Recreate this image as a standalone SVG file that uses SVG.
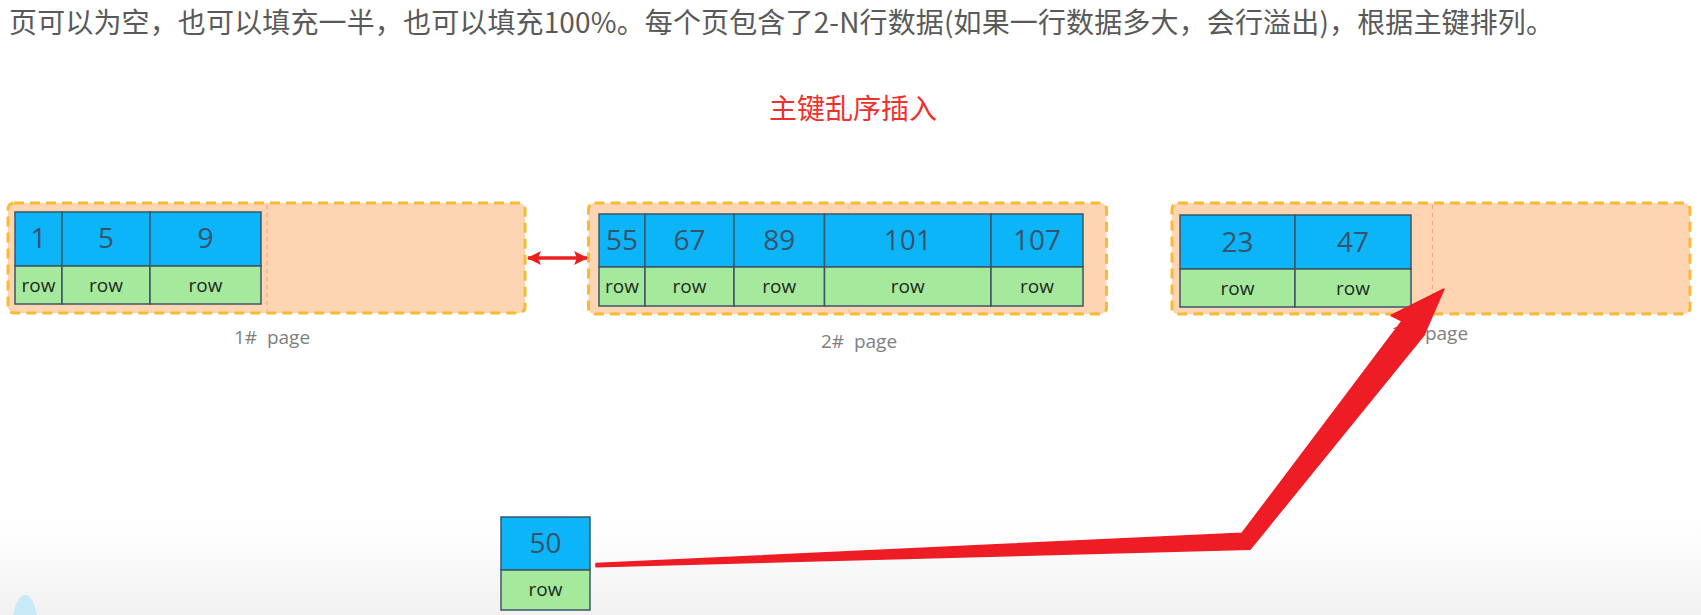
<svg xmlns="http://www.w3.org/2000/svg" width="1701" height="615" viewBox="0 0 1701 615">
<style>
.page{fill:#fdd5b2;stroke:#f9b934;stroke-width:3;stroke-dasharray:10 6}
.sep{stroke:#f0a27a;stroke-width:1;stroke-dasharray:4 4;fill:none}
.key{fill:#0cb4f8;stroke:#3d5567;stroke-width:1.5}
.rw{fill:#a5e99c;stroke:#3d5567;stroke-width:1.5}
.num{font-family:"Open Sans","Noto Sans",sans-serif;font-size:28px;fill:#37536c;text-anchor:middle}
.rt{font-family:"Open Sans","Noto Sans",sans-serif;font-size:19px;fill:#1e2a1e;text-anchor:middle}
.lbl{font-family:"Open Sans","Noto Sans",sans-serif;font-size:19px;fill:#808080;text-anchor:middle}
.cn{font-family:"Noto Sans CJK SC","Noto Sans",sans-serif}
</style>
<defs>
<linearGradient id="bg" x1="0" y1="0" x2="0" y2="1">
<stop offset="0" stop-color="#ffffff"/>
<stop offset="0.85" stop-color="#ffffff"/>
<stop offset="1" stop-color="#f1f1f1"/>
</linearGradient>
<marker id="ah" viewBox="0 0 14 14" refX="13" refY="7" markerWidth="14" markerHeight="14" markerUnits="userSpaceOnUse" orient="auto-start-reverse">
<path d="M0,0 L14,7 L0,14 L3,7 Z" fill="#e8201f"/>
</marker>
</defs>
<rect width="1701" height="615" fill="url(#bg)"/>
<path d="M13,615 C16,601 20,595 25,595 C30,595 34,601 37,615 Z" fill="#c8e9f6"/>

<g id="header">
<text class="cn" x="9" y="33" font-size="28" fill="#595959" textLength="1545" lengthAdjust="spacing">页可以为空，也可以填充一半，也可以填充100%。每个页包含了2-N行数据(如果一行数据多大，会行溢出)，根据主键排列。</text>
</g>
<g id="title">
<text class="cn" x="853" y="119" font-size="28" fill="#f0302a" text-anchor="middle">主键乱序插入</text>
</g>

<g id="page1">
<rect class="page" x="8" y="203" width="517" height="110" rx="6"/>
<line class="sep" x1="267" y1="205" x2="267" y2="311"/>
<rect class="key" x="15" y="212" width="47" height="54"/>
<rect class="key" x="62" y="212" width="88" height="54"/>
<rect class="key" x="150" y="212" width="111" height="54"/>
<rect class="rw" x="15" y="266" width="47" height="38"/>
<rect class="rw" x="62" y="266" width="88" height="38"/>
<rect class="rw" x="150" y="266" width="111" height="38"/>
<text class="num" x="38.5" y="248">1</text>
<text class="num" x="106" y="248">5</text>
<text class="num" x="205.5" y="248">9</text>
<text class="rt" x="38.5" y="292">row</text>
<text class="rt" x="106" y="292">row</text>
<text class="rt" x="205.5" y="292">row</text>
<text class="lbl" x="272" y="344" xml:space="preserve">1#  page</text>
</g>

<g id="page2">
<rect class="page" x="588.5" y="203" width="518" height="111" rx="6"/>
<line class="sep" x1="849" y1="205" x2="849" y2="312" stroke-opacity="0.5"/>
<rect class="key" x="599" y="214" width="46" height="53"/>
<rect class="key" x="645" y="214" width="89" height="53"/>
<rect class="key" x="734" y="214" width="90.5" height="53"/>
<rect class="key" x="824.5" y="214" width="166.5" height="53"/>
<rect class="key" x="991" y="214" width="92" height="53"/>
<rect class="rw" x="599" y="267" width="46" height="39"/>
<rect class="rw" x="645" y="267" width="89" height="39"/>
<rect class="rw" x="734" y="267" width="90.5" height="39"/>
<rect class="rw" x="824.5" y="267" width="166.5" height="39"/>
<rect class="rw" x="991" y="267" width="92" height="39"/>
<text class="num" x="622" y="250">55</text>
<text class="num" x="689.5" y="250">67</text>
<text class="num" x="779.2" y="250">89</text>
<text class="num" x="907.7" y="250">101</text>
<text class="num" x="1037" y="250">107</text>
<text class="rt" x="622" y="293">row</text>
<text class="rt" x="689.5" y="293">row</text>
<text class="rt" x="779.2" y="293">row</text>
<text class="rt" x="907.7" y="293">row</text>
<text class="rt" x="1037" y="293">row</text>
<text class="lbl" x="859" y="348" xml:space="preserve">2#  page</text>
</g>

<g id="page3">
<rect class="page" x="1172" y="203" width="518" height="111" rx="6"/>
<line class="sep" x1="1432.5" y1="205" x2="1432.5" y2="312"/>
<rect class="key" x="1180" y="215" width="115" height="54"/>
<rect class="key" x="1295" y="215" width="116" height="54"/>
<rect class="rw" x="1180" y="269" width="115" height="38"/>
<rect class="rw" x="1295" y="269" width="116" height="38"/>
<text class="num" x="1237.5" y="251.5">23</text>
<text class="num" x="1353" y="251.5">47</text>
<text class="rt" x="1237.5" y="295">row</text>
<text class="rt" x="1353" y="295">row</text>
<text class="lbl" x="1430" y="340" xml:space="preserve">3#  page</text>
</g>

<g id="node50">
<rect class="key" x="501" y="517" width="89" height="53"/>
<rect class="rw" x="501" y="570" width="89" height="40"/>
<text class="num" x="545.5" y="553" font-size="26">50</text>
<text class="rt" x="545.5" y="596">row</text>
</g>

<g id="connectors">
<line x1="528" y1="258" x2="587" y2="258" stroke="#e8201f" stroke-width="3.5" marker-start="url(#ah)" marker-end="url(#ah)"/>
<path d="M596,563.5 L1242,533.3 L1402,321 L1391,315.5 L1444,289 L1424,335 L1250,549.3 L596,566.8 Z" fill="#ee1c25" stroke="#ee1c25" stroke-width="1.5" stroke-linejoin="round"/>
</g>
</svg>
